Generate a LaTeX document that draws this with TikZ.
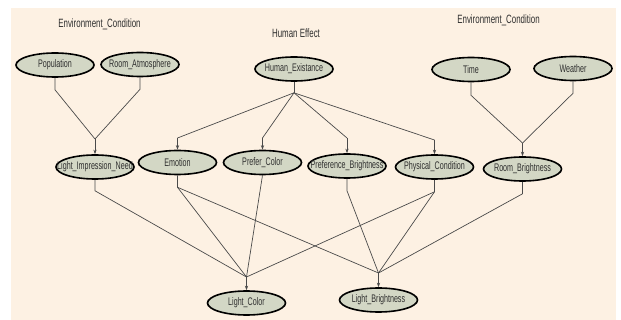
\documentclass[tikz,border=0pt]{standalone}
\usepackage{fontspec}
\usetikzlibrary{arrows.meta,shapes.geometric}
\newfontfamily\narrowsans[FakeStretch=0.65]{Liberation Sans}
\newfontfamily\headsans[FakeStretch=0.66]{Liberation Sans}
\definecolor{paper}{HTML}{FDF1E3}
\definecolor{nodefill}{HTML}{D3D7C5}
\definecolor{inkgrey}{HTML}{2E2E2E}
\definecolor{linkgrey}{HTML}{4A4A4A}
\newcommand{\nlabel}[1]{\makebox[0pt][c]{#1}}

\begin{document}
\begin{tikzpicture}[x=1pt,y=-1pt,
  var/.style={ellipse, draw=black, line width=1.6pt, fill=nodefill,
    minimum width=78pt, minimum height=24pt, inner sep=0pt,
    font=\narrowsans\fontsize{11}{13}\selectfont, text=inkgrey},
  heading/.style={font=\headsans\fontsize{12}{14}\selectfont, text=inkgrey, inner sep=0pt},
  link/.style={draw=linkgrey, line width=0.7pt},
  linkin/.style={link, -{Stealth[length=4.5pt,width=3.2pt]}}]

% page and drawing area
\useasboundingbox (0,0) rectangle (621,320);
\fill[white] (0,0) rectangle (621,320);
\fill[paper] (11,8) rectangle (616,320);

% group headings
\node[heading] (envL) at (99.5,24) {Environment\_Condition};
\node[heading] (human) at (296,33) {Human Effect};
\node[heading] (envR) at (498.5,20.5) {Environment\_Condition};

% variables
\node[var] (pop)  at (55,65)    {\nlabel{Population}};
\node[var] (atm)  at (140,64.5) {\nlabel{Room\_Atmosphere}};
\node[var] (hex)  at (294,69)   {\nlabel{Human\_Existance}};
\node[var] (time) at (471,69.5) {\nlabel{Time}};
\node[var] (wea)  at (573,68.5) {\nlabel{Weather}};

\node[var] (lin)  at (95,167)    {\nlabel{Light\_Impression\_Need}};
\node[var] (emo)  at (177.5,162.5) {\nlabel{Emotion}};
\node[var] (pcol) at (262.5,162.5) {\nlabel{Prefer\_Color}};
\node[var] (pbri) at (347,166)   {\nlabel{Preference\_Brightness}};
\node[var] (phys) at (434.5,167) {\nlabel{Physical\_Condition}};
\node[var] (rbri) at (522.5,169) {\nlabel{Room\_Brightness}};

\node[var] (lcol) at (246.5,303) {\nlabel{Light\_Color}};
\node[var] (lbri) at (378.5,300) {\nlabel{Light\_Brightness}};

% junction points just above each child
\coordinate (jlin)  at (95,139);
\coordinate (jemo)  at (177.5,138);
\coordinate (jpcol) at (262.5,138);
\coordinate (jpbri) at (347,138);
\coordinate (jphys) at (434.5,140);
\coordinate (jrbri) at (522.5,143);
\coordinate (jlcol) at (246.5,277);
\coordinate (jlbri) at (378.5,273);

% parent stubs and diagonals
\draw[link] (pop.south)  -- ++(0,12) -- (jlin);
\draw[link] (atm.south)  -- ++(0,12) -- (jlin);
\draw[link] (hex.south)  -- ++(0,11) coordinate (hstub);
\draw[link] (hstub) -- (jemo);
\draw[link] (hstub) -- (jpcol);
\draw[link] (hstub) -- (jpbri);
\draw[link] (hstub) -- (jphys);
\draw[link] (time.south) -- ++(0,13) -- (jrbri);
\draw[link] (wea.south)  -- ++(0,12) -- (jrbri);

\draw[link] (lin.south)  -- ++(0,11) -- (jlcol);
\draw[link] (emo.south)  -- ++(0,12) coordinate (estub) -- (jlcol);
\draw[link] (estub) -- (jlbri);
\draw[link] (pcol.south) -- (jlcol);
\draw[link] (pbri.south) -- ++(0,12) -- (jlbri);
\draw[link] (phys.south) -- ++(0,12) coordinate (pstub) -- (jlbri);
\draw[link] (pstub) -- (jlcol);
\draw[link] (rbri.south) -- ++(0,12) -- (jlbri);

% arrows into children
\draw[linkin] (jlin)  -- (lin.north);
\draw[linkin] (jemo)  -- (emo.north);
\draw[linkin] (jpcol) -- (pcol.north);
\draw[linkin] (jpbri) -- (pbri.north);
\draw[linkin] (jphys) -- (phys.north);
\draw[linkin] (jrbri) -- (rbri.north);
\draw[linkin] (jlcol) -- (lcol.north);
\draw[linkin] (jlbri) -- (lbri.north);
\end{tikzpicture}
\end{document}
